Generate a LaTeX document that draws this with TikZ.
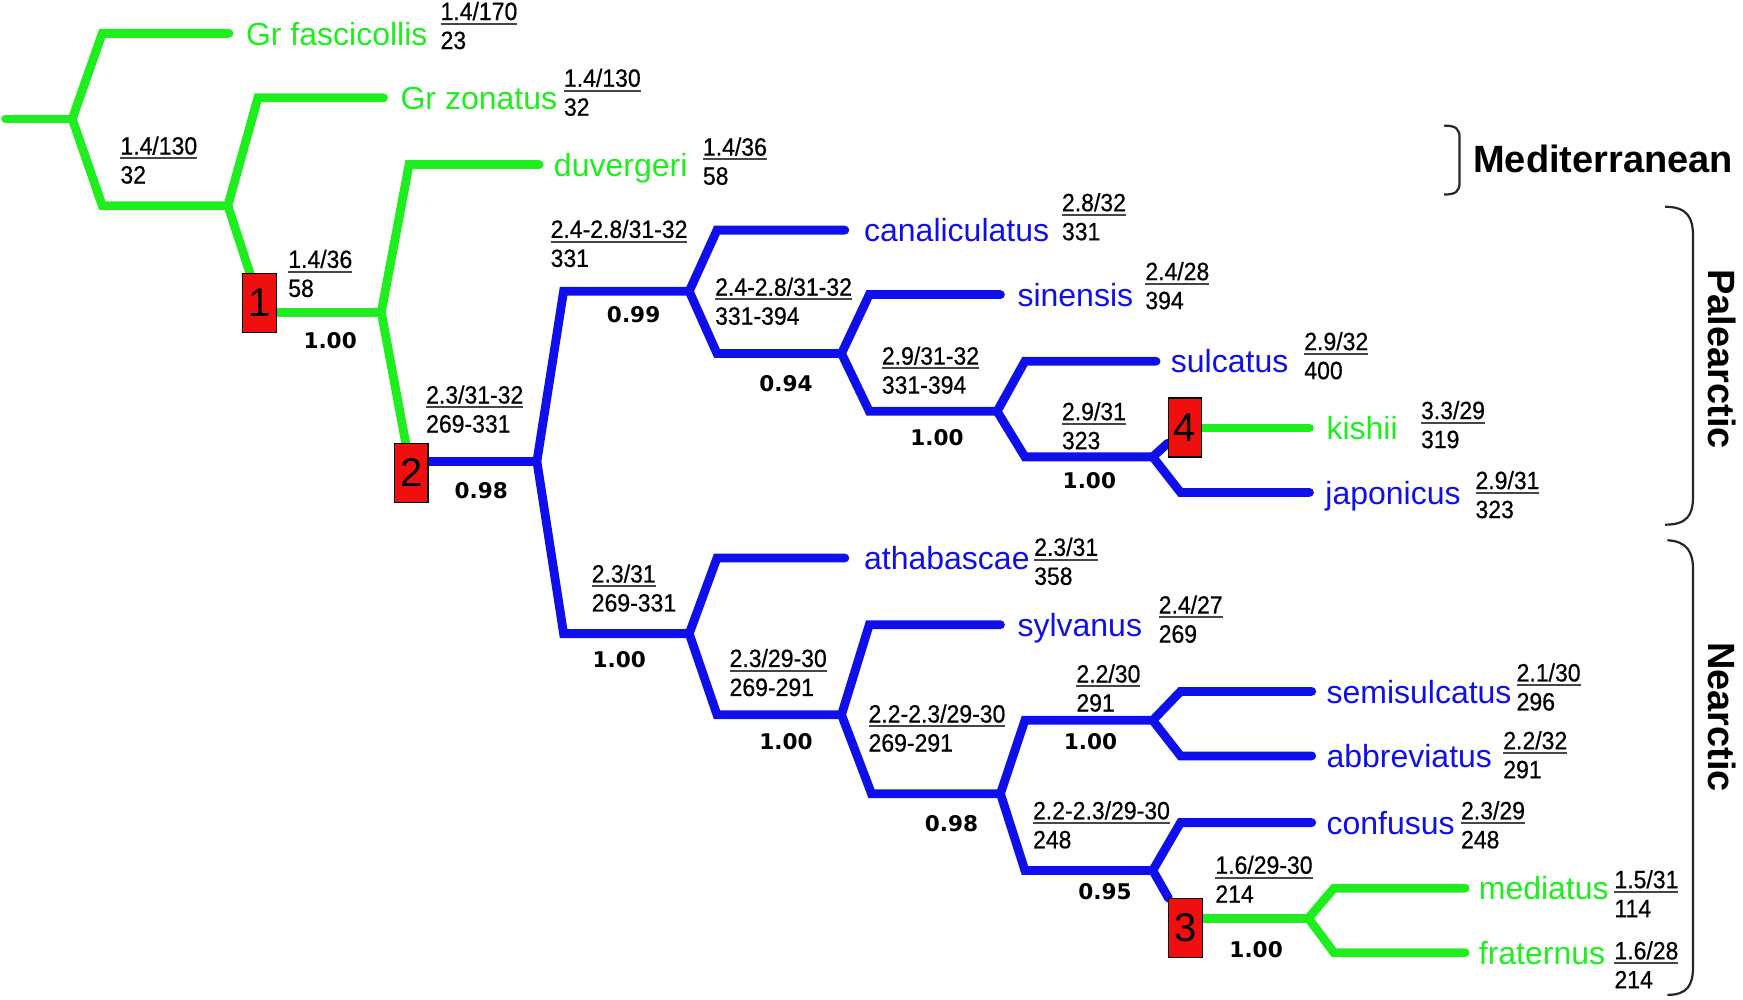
\documentclass[tikz,border=0pt]{standalone}
\usepackage{fontspec}
\setmainfont{Liberation Sans}
\newfontfamily\supfont{DejaVu Sans}
\newfontfamily\annfont[FakeStretch=0.92,FakeBold=0.6]{Liberation Sans}

\definecolor{treegreen}{RGB}{30,238,30}
\definecolor{treeblue}{RGB}{15,15,235}
\definecolor{boxred}{RGB}{240,15,15}
\definecolor{ulgray}{RGB}{70,70,70}

\pgfdeclarelayer{bg}
\pgfsetlayers{bg,main}

% first value underlined with a grey rule, second value below it
\newcommand\topline[1]{\setbox0\hbox{#1}\rlap{\textcolor{ulgray}{\rule[-2.4pt]{\wd0}{1pt}}}\box0}
\newcommand\twoval[2]{\begin{tabular}[t]{@{}l@{}}\topline{#1}\\#2\end{tabular}}

\tikzset{
  branch/.style={line width=4.4pt, line cap=round, line join=miter},
  gbr/.style={branch, draw=treegreen},
  bbr/.style={branch, draw=treeblue},
  taxon/.style={anchor=base west, inner sep=0pt, font=\fontsize{16}{19}\selectfont},
  gtax/.style={taxon, text=treegreen},
  btax/.style={taxon, text=treeblue},
  ann/.style={anchor=base west, inner sep=0pt, font=\annfont\fontsize{12.5}{14.5}\selectfont},
  support/.style={inner sep=0pt, font=\supfont\bfseries\fontsize{10.8}{12}\selectfont},
  nodebox/.style={draw=black, line width=0.6pt, fill=boxred, minimum width=16.7pt,
    minimum height=29.5pt, inner sep=0pt, font=\fontsize{20}{24}\selectfont},
  region/.style={inner sep=0pt, font=\bfseries\fontsize{19}{22}\selectfont},
  brace/.style={line width=1.1pt, draw=black!85}
}

\begin{document}
\begin{tikzpicture}[x=0.5558pt,y=-0.5558pt]
\useasboundingbox (0,0) rectangle (1568,899);

% ---- internal nodes of the tree
\coordinate (R) at (5,107);
\coordinate (A) at (65,107);
\coordinate (B) at (205,185);
\coordinate (C) at (343,281);
\coordinate (D) at (483,415);
\coordinate (E) at (620,262);
\coordinate (F) at (620,570);
\coordinate (G) at (757,318);
\coordinate (H) at (897,370);
\coordinate (I) at (1037,411);
\coordinate (J) at (757,643);
\coordinate (K) at (900,714);
\coordinate (L) at (1037,648);
\coordinate (M) at (1037,783);
\coordinate (N) at (1177,826);

% ---- bends of the branches
\coordinate (A-dn) at (92,185);
\coordinate (D-up) at (507,262);
\coordinate (D-dn) at (507,570);
\coordinate (E-dn) at (645,318);
\coordinate (G-dn) at (782,370);
\coordinate (H-dn) at (922,411);
\coordinate (F-dn) at (645,643);
\coordinate (J-dn) at (784,714);
\coordinate (K-up) at (922,648);
\coordinate (K-dn) at (922,783);

% ---- leaf branches: bend and tip
\coordinate (fas-c) at (92,30);    \coordinate (fas) at (206,30);
\coordinate (zon-c) at (232,88);   \coordinate (zon) at (345,88);
\coordinate (duv-c) at (368,148);  \coordinate (duv) at (485,148);
\coordinate (can-c) at (645,207);  \coordinate (can) at (760,207);
\coordinate (sin-c) at (782,265);  \coordinate (sin) at (900,265);
\coordinate (sul-c) at (922,325);  \coordinate (sul) at (1040,325);
\coordinate (kis) at (1178,385);
\coordinate (jap-c) at (1062,443); \coordinate (jap) at (1178,443);
\coordinate (ath-c) at (645,502);  \coordinate (ath) at (760,502);
\coordinate (syl-c) at (782,562);  \coordinate (syl) at (900,562);
\coordinate (sem-c) at (1062,622); \coordinate (sem) at (1180,622);
\coordinate (abb-c) at (1062,680); \coordinate (abb) at (1180,680);
\coordinate (con-c) at (1062,740); \coordinate (con) at (1180,740);
\coordinate (med-c) at (1200,799); \coordinate (med) at (1318,799);
\coordinate (fra-c) at (1200,857); \coordinate (fra) at (1318,857);

% ---- numbered boxes
\node[nodebox] (b1) at (233.5,272.5) {1};
\node[nodebox] (b2) at (370,425.5) {2};
\node[nodebox] (b3) at (1066.5,835) {3};
\node[nodebox] (b4) at (1066,384.5) {4};

% ---- branches
\begin{pgfonlayer}{bg}
\draw[gbr] (R) -- (A);
\draw[gbr] (fas) -- (fas-c) -- (A) -- (A-dn) -- (B);
\draw[gbr] (zon) -- (zon-c) -- (B) -- (b1);
\draw[gbr] (b1.east |- C) -- (C);
\draw[gbr] (duv) -- (duv-c) -- (C) -- (b2);
\draw[bbr] (b2.east |- D) -- (D);
\draw[bbr] (E) -- (D-up) -- (D) -- (D-dn) -- (F);
\draw[bbr] (can) -- (can-c) -- (E) -- (E-dn) -- (G);
\draw[bbr] (sin) -- (sin-c) -- (G) -- (G-dn) -- (H);
\draw[bbr] (sul) -- (sul-c) -- (H) -- (H-dn) -- (I);
\draw[bbr] (b4) -- (I) -- (jap-c) -- (jap);
\draw[gbr] (b4.east |- kis) -- (kis);
\draw[bbr] (ath) -- (ath-c) -- (F) -- (F-dn) -- (J);
\draw[bbr] (syl) -- (syl-c) -- (J) -- (J-dn) -- (K);
\draw[bbr] (L) -- (K-up) -- (K) -- (K-dn) -- (M);
\draw[bbr] (sem) -- (sem-c) -- (L) -- (abb-c) -- (abb);
\draw[bbr] (con) -- (con-c) -- (M) -- (b3);
\draw[gbr] (b3.east |- N) -- (N);
\draw[gbr] (med) -- (med-c) -- (N) -- (fra-c) -- (fra);
\end{pgfonlayer}

% ---- taxon names
\node[gtax] (t-fas) at (221,40.5) {Gr fascicollis};
\node[gtax] (t-zon) at (360,98.5) {Gr zonatus};
\node[gtax] (t-duv) at (498,158.5) {duvergeri};
\node[btax] (t-can) at (777,217.5) {canaliculatus};
\node[btax] (t-sin) at (915,275.5) {sinensis};
\node[btax] (t-sul) at (1053,335.5) {sulcatus};
\node[gtax] (t-kis) at (1193,395.5) {kishii};
\node[btax] (t-jap) at (1192,453.5) {japonicus};
\node[btax] (t-ath) at (777,512.5) {athabascae};
\node[btax] (t-syl) at (915,572.5) {sylvanus};
\node[btax] (t-sem) at (1193,632.5) {semisulcatus};
\node[btax] (t-abb) at (1193,690.5) {abbreviatus};
\node[btax] (t-con) at (1193,750.5) {confusus};
\node[gtax] (t-med) at (1330,809.5) {mediatus};
\node[gtax] (t-fra) at (1330,867.5) {fraternus};

% ---- values at the tips
\node[ann] (a-fas) at (396,18) {\twoval{1.4/170}{23}};
\node[ann] (a-zon) at (507,78) {\twoval{1.4/130}{32}};
\node[ann] (a-duv) at (632,140) {\twoval{1.4/36}{58}};
\node[ann] (a-can) at (955,190) {\twoval{2.8/32}{331}};
\node[ann] (a-sin) at (1030,252) {\twoval{2.4/28}{394}};
\node[ann] (a-sul) at (1173,315) {\twoval{2.9/32}{400}};
\node[ann] (a-kis) at (1278,377) {\twoval{3.3/29}{319}};
\node[ann] (a-jap) at (1327,440) {\twoval{2.9/31}{323}};
\node[ann] (a-ath) at (930,500) {\twoval{2.3/31}{358}};
\node[ann] (a-syl) at (1042,552) {\twoval{2.4/27}{269}};
\node[ann] (a-sem) at (1364,613) {\twoval{2.1/30}{296}};
\node[ann] (a-abb) at (1352,674) {\twoval{2.2/32}{291}};
\node[ann] (a-con) at (1314,737) {\twoval{2.3/29}{248}};
\node[ann] (a-med) at (1452,799) {\twoval{1.5/31}{114}};
\node[ann] (a-fra) at (1452,863) {\twoval{1.6/28}{214}};

% ---- values on the internal branches
\node[ann] (a-B) at (108,139) {\twoval{1.4/130}{32}};
\node[ann] (a-C) at (259,241) {\twoval{1.4/36}{58}};
\node[ann] (a-D) at (383,363) {\twoval{2.3/31-32}{269-331}};
\node[ann] (a-E) at (495,214) {\twoval{2.4-2.8/31-32}{331}};
\node[ann] (a-F) at (532,524) {\twoval{2.3/31}{269-331}};
\node[ann] (a-G) at (643,266) {\twoval{2.4-2.8/31-32}{331-394}};
\node[ann] (a-H) at (793,328) {\twoval{2.9/31-32}{331-394}};
\node[ann] (a-I) at (955,378) {\twoval{2.9/31}{323}};
\node[ann] (a-J) at (656,600) {\twoval{2.3/29-30}{269-291}};
\node[ann] (a-K) at (781,650) {\twoval{2.2-2.3/29-30}{269-291}};
\node[ann] (a-L) at (968,614) {\twoval{2.2/30}{291}};
\node[ann] (a-M) at (929,737) {\twoval{2.2-2.3/29-30}{248}};
\node[ann] (a-N) at (1093,786) {\twoval{1.6/29-30}{214}};

% ---- posterior probabilities
\node[support] (p-C) at (297,306) {1.00};
\node[support] (p-D) at (433,441) {0.98};
\node[support] (p-E) at (570,283) {0.99};
\node[support] (p-G) at (707,345) {0.94};
\node[support] (p-H) at (843,394) {1.00};
\node[support] (p-I) at (980,432) {1.00};
\node[support] (p-F) at (557,593) {1.00};
\node[support] (p-J) at (707,667) {1.00};
\node[support] (p-K) at (856,741) {0.98};
\node[support] (p-L) at (981,667) {1.00};
\node[support] (p-M) at (994,802) {0.95};
\node[support] (p-N) at (1130,854) {1.00};

% ---- regions
\draw[brace] (1299,113) .. controls (1310,113) and (1313,116) .. (1313,124)
  -- (1313,164) .. controls (1313,172) and (1310,175) .. (1299,175);
\node[region, anchor=west] (r-med) at (1325,143) {Mediterranean};
\draw[brace] (1498,186) .. controls (1518,186) and (1523,196) .. (1523,212)
  -- (1523,447) .. controls (1523,463) and (1518,472) .. (1498,472);
\node[region, rotate=-90] (r-pal) at (1549,323) {Palearctic};
\draw[brace] (1500,486) .. controls (1518,487) and (1523,497) .. (1523,512)
  -- (1523,870) .. controls (1523,886) and (1518,895) .. (1500,895);
\node[region, rotate=-90] (r-nea) at (1549,645) {Nearctic};
\end{tikzpicture}
\end{document}
